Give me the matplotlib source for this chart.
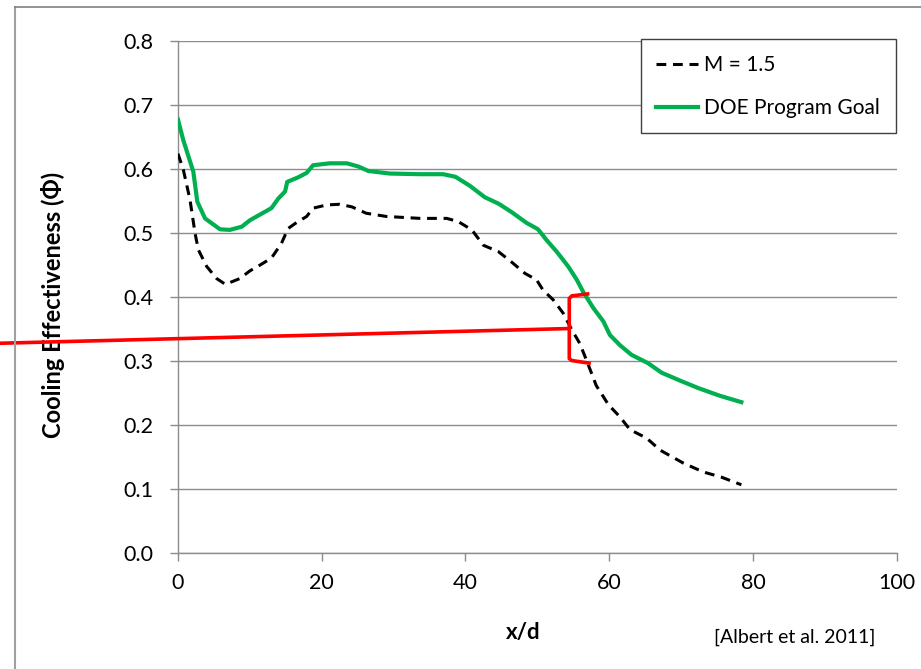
import matplotlib
matplotlib.use("Agg")
import matplotlib.pyplot as plt
from matplotlib.lines import Line2D

plt.rcParams['font.family'] = ['Lato', 'DejaVu Sans']

# Film cooling effectiveness vs. downstream distance
x_m15 = [0.0, 0.74, 1.67, 2.37, 2.83, 3.99, 5.38, 6.6, 8.6, 10.0, 11.4, 13.0, 14.4,
         15.3, 16.3, 17.9, 18.8, 20.7, 22.5, 24.2, 26.2, 29.0, 33.7, 37.4, 39.0,
         40.9, 42.5, 44.6, 46.4, 48.3, 49.9, 50.8, 52.2, 53.6, 54.8, 55.9, 56.9,
         58.2, 59.9, 61.5, 62.9, 65.2, 67.1, 70.3, 73.1, 75.6, 78.4]
phi_m15 = [0.624, 0.599, 0.552, 0.500, 0.474, 0.448, 0.429, 0.420, 0.429, 0.441, 0.450,
           0.461, 0.484, 0.507, 0.515, 0.526, 0.539, 0.544, 0.545, 0.541, 0.531, 0.526,
           0.523, 0.523, 0.518, 0.505, 0.481, 0.471, 0.455, 0.437, 0.427, 0.411, 0.396,
           0.375, 0.349, 0.328, 0.300, 0.262, 0.232, 0.213, 0.193, 0.180, 0.161, 0.141,
           0.127, 0.119, 0.107]

x_goal = [0.0, 0.74, 2.13, 2.69, 3.76, 5.84, 7.2, 8.87, 10.0, 13.0, 13.96, 14.9, 15.2,
          16.7, 17.9, 18.8, 21.1, 23.5, 25.1, 26.5, 29.5, 33.7, 36.9, 38.6, 40.6,
          42.7, 44.6, 46.4, 48.5, 50.1, 51.3, 52.7, 54.3, 55.5, 56.4, 57.8, 59.2,
          60.1, 61.5, 63.1, 65.4, 67.3, 69.8, 72.4, 75.4, 78.4]
phi_goal = [0.677, 0.645, 0.596, 0.549, 0.523, 0.506, 0.505, 0.510, 0.520, 0.539, 0.554,
            0.565, 0.580, 0.587, 0.594, 0.606, 0.609, 0.609, 0.604, 0.597, 0.593, 0.592,
            0.592, 0.588, 0.574, 0.556, 0.546, 0.533, 0.516, 0.506, 0.489, 0.471, 0.448,
            0.427, 0.408, 0.383, 0.362, 0.341, 0.325, 0.310, 0.297, 0.282, 0.270, 0.258,
            0.246, 0.236]

# Red bracket marking the gap between the two curves, with its pointer line
pointer_x = [-24.8, 54.5]
pointer_y = [0.328, 0.351]
bracket_x = [57.0, 54.8, 54.45, 54.45, 54.8, 57.2]
bracket_y = [0.405, 0.402, 0.398, 0.304, 0.301, 0.297]

x_ticks = [0, 20, 40, 60, 80, 100]
y_ticks = [0.0, 0.1, 0.2, 0.3, 0.4, 0.5, 0.6, 0.7, 0.8]

W, H = 921, 669
x0_px, x1_px = 178, 896.6
y0_px, y1_px = 553.3, 41

fig = plt.figure(figsize=(W / 100, H / 100), dpi=100)
ax = fig.add_axes([x0_px / W, 1 - y0_px / H, (x1_px - x0_px) / W, (y0_px - y1_px) / H])

grid_c = '#8c8c8c'
ax.set_xlim(0, 100)
ax.set_ylim(0, 0.8)
ax.set_xticks(x_ticks)
ax.set_yticks(y_ticks)
ax.set_xticklabels([str(v) for v in x_ticks])
ax.set_yticklabels([f"{v:.1f}" for v in y_ticks])
ax.yaxis.grid(True, color=grid_c, linewidth=1.0)
ax.set_axisbelow(True)
for s in ['top', 'right']:
    ax.spines[s].set_visible(False)
for s in ['left', 'bottom']:
    ax.spines[s].set_color(grid_c)
    ax.spines[s].set_linewidth(1.0)
ax.tick_params(axis='both', colors=grid_c, length=6, width=1.0, labelsize=15.5,
               labelcolor='black')
ax.tick_params(axis='y', pad=12)
ax.tick_params(axis='x', pad=8)

ax.plot(x_m15, phi_m15, color='black', linewidth=2.2, linestyle=(0, (3.2, 2.2)),
        label='M = 1.5', zorder=3)
ax.plot(x_goal, phi_goal, color='#00b050', linewidth=3.0, label='DOE Program Goal',
        zorder=3)

ax.plot(pointer_x, pointer_y, color='#ff0000', linewidth=2.6, clip_on=False,
        solid_capstyle='butt', zorder=4)
ax.plot(bracket_x, bracket_y, color='#ff0000', linewidth=2.6, clip_on=False,
        solid_joinstyle='round', zorder=4)

ax.set_ylabel('Cooling Effectiveness (Φ)', fontsize=17, fontweight='bold')
ax.yaxis.set_label_coords(-(x0_px - 53) / (x1_px - x0_px), (y0_px - 305) / (y0_px - y1_px))
ax.set_xlabel('x/d', fontsize=16, fontweight='bold')
ax.xaxis.set_label_coords((523 - x0_px) / (x1_px - x0_px), -(632 - y0_px) / (y0_px - y1_px))
ax.xaxis.label.set_va('center')
ax.yaxis.label.set_va('center')

fig.text(795 / W, 1 - 637 / H, '[Albert et al. 2011]', fontsize=14,
         ha='center', va='center')

leg = ax.legend(loc='upper right', bbox_to_anchor=(895.7 / W, 1 - 39.3 / H),
                bbox_transform=fig.transFigure, borderaxespad=0, fontsize=15,
                handlelength=2.0, handletextpad=0.3, labelspacing=1.1,
                borderpad=0.75, fancybox=False, framealpha=1, edgecolor='#404040')
leg.get_frame().set_linewidth(1.0)

# Outer frame lines along the left and top edges
fig.add_artist(Line2D([15 / W, 15 / W], [0, 1 - 7 / H], transform=fig.transFigure,
                      color='#a0a0a0', linewidth=1.5))
fig.add_artist(Line2D([15 / W, 1], [1 - 7 / H, 1 - 7 / H], transform=fig.transFigure,
                      color='#808080', linewidth=1.2))

fig.savefig('out.png', dpi=100)
